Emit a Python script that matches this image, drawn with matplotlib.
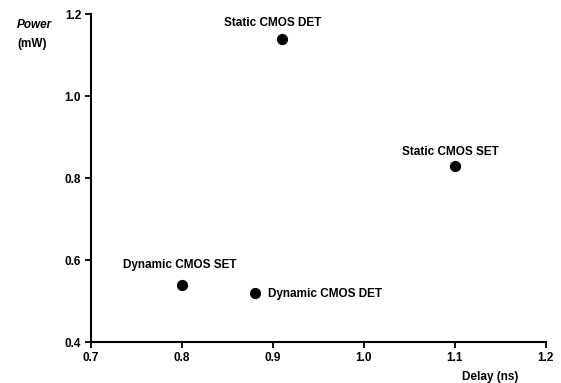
import matplotlib
matplotlib.use("Agg")
import matplotlib.pyplot as plt

delay = [0.91, 1.10, 0.80, 0.88]
power = [1.14, 0.83, 0.54, 0.52]
labels = ["Static CMOS DET", "Static CMOS SET", "Dynamic CMOS SET", "Dynamic CMOS DET"]
xticks = [0.7, 0.8, 0.9, 1.0, 1.1, 1.2]
yticks = [0.4, 0.6, 0.8, 1.0, 1.2]

plt.rcParams['font.family'] = ['Liberation Sans', 'DejaVu Sans']
fig = plt.figure(figsize=(5.61, 3.83), dpi=100)
ax = fig.add_axes([0.162, 0.107, 0.811, 0.856])
ax.scatter(delay, power, s=50, color='black', zorder=3)

# label offsets in points (dx, dy) and alignment
offsets = [(-6.5, 11, 'center'), (-3, 10, 'center'), (-1.5, 14, 'center'), (9.4, -0.7, 'left')]
for x, y, t, (dx, dy, ha) in zip(delay, power, labels, offsets):
    ax.annotate(t, (x, y), xytext=(dx, dy), textcoords='offset points',
                ha=ha, va='center', fontsize=8.5, fontweight='bold')

ax.set_xlim(0.7, 1.2)
ax.set_ylim(0.4, 1.2)
ax.set_xticks(xticks)
ax.set_yticks(yticks)
ax.set_xticklabels([f"{v:.1f}" for v in xticks])
ax.set_yticklabels([f"{v:.1f}" for v in yticks])
for s in ['top', 'right']:
    ax.spines[s].set_visible(False)
for s in ['left', 'bottom']:
    ax.spines[s].set_linewidth(1.5)
ax.tick_params(direction='out', length=4, width=1.3, labelsize=8.5, pad=3)
for lbl in ax.get_xticklabels() + ax.get_yticklabels():
    lbl.set_fontweight('bold')

fig.text(0.061, 0.935, "Power", fontsize=8.5, fontweight='bold', style='italic', ha='center', va='center')
fig.text(0.058, 0.885, "(mW)", fontsize=8.5, fontweight='bold', ha='center', va='center')
fig.text(0.873, 0.016, "Delay (ns)", fontsize=8.5, fontweight='bold', ha='center', va='center')

fig.savefig("out.png", dpi=100)
